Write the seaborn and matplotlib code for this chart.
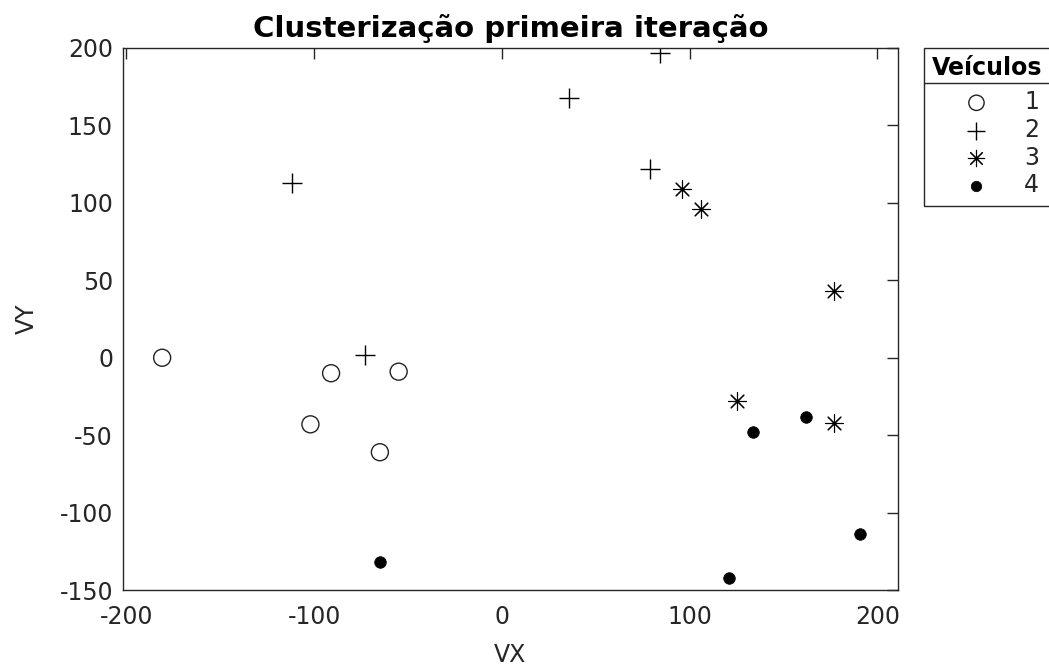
import numpy as np
import pandas as pd
import matplotlib
matplotlib.use("Agg")
import matplotlib.pyplot as plt
from matplotlib.lines import Line2D
import seaborn as sns

# Vehicle positions grouped by cluster (first iteration)
vx_1 = [-181, -91, -55, -102, -65]
vy_1 = [0, -10, -9, -43, -61]

vx_2 = [-73, -112, 36, 84, 79]
vy_2 = [2, 113, 168, 197, 122]

vx_3 = [96, 106, 177, 125, 177]
vy_3 = [109, 96, 43, -28, -42]

vx_4 = [134, 162, 191, 121, -65]
vy_4 = [-48, -38, -114, -142, -132]

cluster_labels = ["1", "2", "3", "4"]
x_ticks = [-200, -100, 0, 100, 200]
y_ticks = [-150, -100, -50, 0, 50, 100, 150, 200]

df = pd.concat([
    pd.DataFrame({"VX": vx, "VY": vy, "veiculo": lab})
    for vx, vy, lab in zip([vx_1, vx_2, vx_3, vx_4],
                           [vy_1, vy_2, vy_3, vy_4],
                           cluster_labels)
], ignore_index=True)

sns.set_theme(style="white")
plt.rcParams["font.family"] = ["DejaVu Sans"]
plt.rcParams["axes.unicode_minus"] = False
dark = "#262626"

fig = plt.figure(figsize=(10.49, 6.66), dpi=100)
ax = fig.add_axes([0.117, 0.114, 0.739, 0.814])

styles = {
    "1": dict(marker="o", s=150, facecolors="none", edgecolors="#222222", linewidths=1.0),
    "2": dict(marker="+", s=210, color="black", linewidths=1.0),
    "3": dict(marker=(8, 2, 0), s=170, color="black", linewidths=0.8),
    "4": dict(marker="o", s=70, color="black", edgecolors="black", linewidths=0.5),
}

for lab in cluster_labels:
    sub = df[df["veiculo"] == lab]
    sns.scatterplot(data=sub, x="VX", y="VY", ax=ax, label=lab, legend=False,
                    **styles[lab])

ax.set_xlim(-202, 211)
ax.set_ylim(-150, 200)
ax.set_xticks(x_ticks)
ax.set_yticks(y_ticks)
ax.tick_params(direction="in", length=8, width=1, top=True, right=True,
               labelsize=17, colors=dark, pad=7)
ax.tick_params(axis="x", pad=11)
for sp in ax.spines.values():
    sp.set_color(dark)
    sp.set_linewidth(1.0)

ax.set_xlabel("VX", fontsize=17, color=dark, labelpad=10)
ax.set_ylabel("VY", fontsize=17, color=dark, labelpad=15)
ax.set_title("Clusterização primeira iteração", fontsize=21, fontweight="bold",
             color="black", pad=8)

handles, labels = ax.get_legend_handles_labels()
leg = ax.legend(handles, labels, title="Veículos", loc="upper left",
                bbox_to_anchor=(924 / 1049, 1 - 48 / 666),
                bbox_transform=fig.transFigure,
                fontsize=17, title_fontproperties={"weight": "bold", "size": 17},
                frameon=True, fancybox=False, edgecolor=dark, framealpha=1,
                handlelength=3.45, handletextpad=0.3, borderpad=0.35,
                labelspacing=0.16, borderaxespad=0, markerscale=0.9)
leg.get_frame().set_linewidth(1.0)
leg.get_title().set_color("black")
leg._legend_box.align = "center"
leg._legend_box.sep = 7

# rule under the legend title
fig.canvas.draw()
r = fig.canvas.get_renderer()
fb = leg.get_frame().get_window_extent(r)
tb = leg.get_title().get_window_extent(r)
y_sep = tb.y0 - 3
fig.add_artist(Line2D([fb.x0, fb.x1], [y_sep, y_sep], transform=None,
                      color=dark, linewidth=1.0))

fig.savefig("out.png", dpi=100)
